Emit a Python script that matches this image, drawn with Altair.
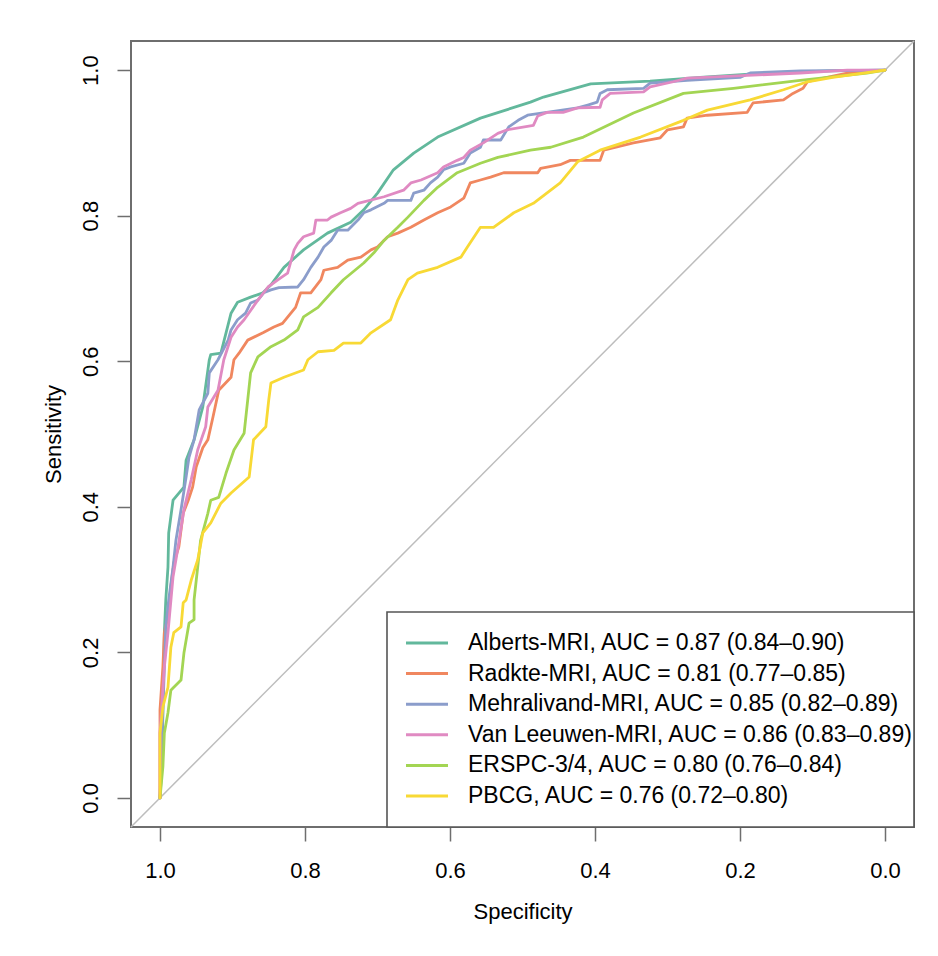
import altair as alt
import pandas as pd

# ---- data (specificity, sensitivity) ----
series_names = [
    "Alberts-MRI, AUC = 0.87 (0.84–0.90)",
    "Radkte-MRI, AUC = 0.81 (0.77–0.85)",
    "Mehralivand-MRI, AUC = 0.85 (0.82–0.89)",
    "Van Leeuwen-MRI, AUC = 0.86 (0.83–0.89)",
    "ERSPC-3/4, AUC = 0.80 (0.76–0.84)",
    "PBCG, AUC = 0.76 (0.72–0.80)",
]
series_colors = ["#62B89C", "#F0875F", "#8B9DCB", "#E08AC2", "#A3D553", "#F8D935"]

alberts_spec = [1.0, 0.997, 0.996, 0.994, 0.992, 0.989, 0.988, 0.982, 0.967, 0.964, 0.953, 0.941, 0.932, 0.930, 0.916, 0.902, 0.893, 0.875, 0.858, 0.847, 0.829, 0.802, 0.769, 0.737, 0.719, 0.700, 0.678, 0.650, 0.617, 0.558, 0.489, 0.471, 0.406, 0.324, 0.255, 0.163, 0.072, 0.0]
alberts_sens = [0.0, 0.052, 0.121, 0.227, 0.272, 0.317, 0.364, 0.409, 0.427, 0.464, 0.492, 0.537, 0.602, 0.609, 0.611, 0.666, 0.681, 0.688, 0.694, 0.705, 0.729, 0.753, 0.776, 0.791, 0.808, 0.831, 0.863, 0.886, 0.908, 0.934, 0.956, 0.963, 0.981, 0.985, 0.990, 0.996, 0.999, 1.0]

radtke_spec = [1.0, 1.0, 0.996, 0.994, 0.989, 0.985, 0.981, 0.974, 0.968, 0.961, 0.955, 0.950, 0.941, 0.934, 0.927, 0.919, 0.902, 0.898, 0.891, 0.879, 0.858, 0.843, 0.831, 0.813, 0.806, 0.792, 0.778, 0.774, 0.755, 0.741, 0.723, 0.709, 0.700, 0.686, 0.672, 0.654, 0.636, 0.617, 0.599, 0.581, 0.572, 0.558, 0.544, 0.526, 0.479, 0.475, 0.448, 0.434, 0.393, 0.388, 0.347, 0.310, 0.300, 0.278, 0.273, 0.245, 0.190, 0.182, 0.140, 0.127, 0.113, 0.107, 0.085, 0.052, 0.0]
radtke_sens = [0.0, 0.121, 0.180, 0.227, 0.249, 0.290, 0.323, 0.345, 0.391, 0.409, 0.427, 0.455, 0.481, 0.492, 0.523, 0.560, 0.578, 0.602, 0.611, 0.629, 0.639, 0.647, 0.652, 0.674, 0.694, 0.694, 0.712, 0.725, 0.729, 0.739, 0.743, 0.753, 0.757, 0.771, 0.776, 0.784, 0.794, 0.804, 0.812, 0.824, 0.845, 0.849, 0.853, 0.859, 0.859, 0.865, 0.870, 0.876, 0.876, 0.890, 0.900, 0.907, 0.918, 0.922, 0.934, 0.938, 0.942, 0.955, 0.959, 0.968, 0.975, 0.984, 0.989, 0.996, 1.0]

mehralivand_spec = [1.0, 0.996, 0.992, 0.988, 0.982, 0.978, 0.971, 0.964, 0.960, 0.953, 0.946, 0.934, 0.932, 0.920, 0.906, 0.902, 0.893, 0.882, 0.875, 0.865, 0.857, 0.847, 0.836, 0.810, 0.802, 0.792, 0.782, 0.774, 0.764, 0.755, 0.741, 0.727, 0.719, 0.709, 0.691, 0.686, 0.654, 0.650, 0.636, 0.627, 0.617, 0.609, 0.599, 0.581, 0.572, 0.558, 0.554, 0.530, 0.519, 0.506, 0.493, 0.424, 0.410, 0.397, 0.393, 0.383, 0.333, 0.324, 0.273, 0.200, 0.186, 0.117, 0.0]
mehralivand_sens = [0.0, 0.121, 0.235, 0.272, 0.317, 0.354, 0.396, 0.441, 0.468, 0.492, 0.533, 0.556, 0.584, 0.602, 0.629, 0.643, 0.657, 0.666, 0.680, 0.684, 0.694, 0.698, 0.701, 0.702, 0.712, 0.729, 0.743, 0.757, 0.766, 0.780, 0.780, 0.794, 0.804, 0.808, 0.817, 0.821, 0.821, 0.831, 0.835, 0.845, 0.853, 0.863, 0.867, 0.872, 0.886, 0.894, 0.904, 0.904, 0.922, 0.931, 0.938, 0.948, 0.952, 0.956, 0.968, 0.973, 0.975, 0.982, 0.986, 0.990, 0.996, 0.999, 1.0]

vanleeuwen_spec = [1.0, 1.0, 0.994, 0.989, 0.982, 0.975, 0.967, 0.957, 0.948, 0.937, 0.934, 0.920, 0.912, 0.902, 0.893, 0.884, 0.865, 0.851, 0.837, 0.824, 0.815, 0.810, 0.802, 0.788, 0.785, 0.769, 0.764, 0.751, 0.737, 0.727, 0.691, 0.664, 0.654, 0.640, 0.617, 0.609, 0.590, 0.581, 0.572, 0.554, 0.534, 0.521, 0.485, 0.479, 0.466, 0.444, 0.424, 0.393, 0.390, 0.379, 0.333, 0.324, 0.292, 0.273, 0.117, 0.052, 0.0]
vanleeuwen_sens = [0.0, 0.089, 0.180, 0.227, 0.304, 0.345, 0.396, 0.437, 0.478, 0.510, 0.537, 0.560, 0.602, 0.633, 0.647, 0.657, 0.684, 0.702, 0.712, 0.721, 0.753, 0.762, 0.771, 0.776, 0.794, 0.794, 0.798, 0.804, 0.810, 0.817, 0.826, 0.835, 0.845, 0.849, 0.859, 0.867, 0.876, 0.880, 0.890, 0.900, 0.913, 0.918, 0.924, 0.937, 0.942, 0.942, 0.948, 0.949, 0.959, 0.968, 0.970, 0.977, 0.984, 0.989, 0.996, 1.0, 1.0]

erspc_spec = [1.0, 0.996, 0.994, 0.989, 0.985, 0.981, 0.971, 0.967, 0.960, 0.953, 0.953, 0.948, 0.944, 0.934, 0.930, 0.919, 0.909, 0.898, 0.884, 0.879, 0.875, 0.865, 0.847, 0.829, 0.810, 0.802, 0.782, 0.764, 0.747, 0.719, 0.705, 0.691, 0.672, 0.658, 0.636, 0.617, 0.590, 0.558, 0.534, 0.489, 0.461, 0.416, 0.347, 0.278, 0.209, 0.117, 0.025, 0.0]
erspc_sens = [0.0, 0.043, 0.089, 0.117, 0.148, 0.152, 0.162, 0.199, 0.240, 0.245, 0.272, 0.317, 0.354, 0.391, 0.409, 0.413, 0.446, 0.478, 0.501, 0.547, 0.584, 0.606, 0.620, 0.629, 0.643, 0.661, 0.674, 0.694, 0.712, 0.735, 0.749, 0.766, 0.784, 0.798, 0.821, 0.839, 0.859, 0.872, 0.880, 0.890, 0.894, 0.908, 0.941, 0.968, 0.975, 0.986, 0.996, 1.0]

pbcg_spec = [1.0, 1.0, 0.996, 0.989, 0.985, 0.981, 0.971, 0.968, 0.964, 0.957, 0.948, 0.941, 0.930, 0.916, 0.902, 0.877, 0.871, 0.854, 0.850, 0.847, 0.829, 0.802, 0.796, 0.782, 0.760, 0.747, 0.723, 0.709, 0.682, 0.672, 0.658, 0.645, 0.617, 0.585, 0.576, 0.558, 0.540, 0.512, 0.485, 0.448, 0.424, 0.393, 0.337, 0.278, 0.245, 0.186, 0.140, 0.107, 0.072, 0.0]
pbcg_sens = [0.0, 0.089, 0.125, 0.152, 0.207, 0.227, 0.235, 0.268, 0.272, 0.299, 0.327, 0.364, 0.378, 0.405, 0.419, 0.441, 0.492, 0.510, 0.547, 0.570, 0.578, 0.588, 0.602, 0.613, 0.615, 0.625, 0.625, 0.639, 0.657, 0.684, 0.712, 0.721, 0.729, 0.743, 0.757, 0.784, 0.784, 0.804, 0.817, 0.845, 0.874, 0.890, 0.908, 0.931, 0.945, 0.959, 0.973, 0.984, 0.990, 1.0]

diag_spec = [1.04, -0.04]
diag_sens = [-0.04, 1.04]

tick_values = [0.0, 0.2, 0.4, 0.6, 0.8, 1.0]

# ---- build table ----
curves = [
    (alberts_spec, alberts_sens),
    (radtke_spec, radtke_sens),
    (mehralivand_spec, mehralivand_sens),
    (vanleeuwen_spec, vanleeuwen_sens),
    (erspc_spec, erspc_sens),
    (pbcg_spec, pbcg_sens),
]
rows = []
for k, (name, (sp, se)) in enumerate(zip(series_names, curves)):
    for i, (a, b) in enumerate(zip(sp, se)):
        rows.append({"model": name, "rank": k, "i": i, "spec": a, "sens": b})
df = pd.DataFrame(rows)
diag_df = pd.DataFrame({"spec": diag_spec, "sens": diag_sens})
frame_df = pd.DataFrame({"box": [0]})

FONT = "Liberation Sans"
AXIS_GRAY = "#6e6e6e"

x_scale = alt.Scale(domain=[-0.04, 1.04], reverse=True, nice=False, zero=False)
y_scale = alt.Scale(domain=[-0.04, 1.04], nice=False, zero=False)

x_axis = alt.Axis(
    values=tick_values, format=".1f", grid=False, domain=False,
    tickSize=14, tickWidth=1.5, tickColor=AXIS_GRAY,
    labelFontSize=22, labelFont=FONT, labelColor="black", labelPadding=19,
    title="Specificity", titleFontSize=22, titleFont=FONT, titleFontWeight="normal",
    titleColor="black", titleY=74, titleBaseline="top",
)
y_axis = alt.Axis(
    values=tick_values, format=".1f", grid=False, domain=False,
    tickSize=14, tickWidth=1.5, tickColor=AXIS_GRAY,
    labelFontSize=22, labelFont=FONT, labelColor="black", labelPadding=15,
    labelAngle=270, labelAlign="center", labelBaseline="bottom",
    title="Sensitivity", titleFontSize=22, titleFont=FONT, titleFontWeight="normal",
    titleColor="black", titleAngle=270, titleX=-78, titleBaseline="middle", titleAlign="center",
)

diag = alt.Chart(diag_df).mark_line(color="#bdbdbd", strokeWidth=1.5).encode(
    x=alt.X("spec:Q", scale=x_scale, axis=x_axis),
    y=alt.Y("sens:Q", scale=y_scale, axis=y_axis),
)

lines = alt.Chart(df).mark_line(strokeWidth=2.8, strokeJoin="round", strokeCap="round").encode(
    x=alt.X("spec:Q", scale=x_scale, axis=x_axis),
    y=alt.Y("sens:Q", scale=y_scale, axis=y_axis),
    color=alt.Color(
        "model:N",
        sort=series_names,
        scale=alt.Scale(domain=series_names, range=series_colors),
        legend=alt.Legend(
            title=None, orient="none", legendX=284.5, legendY=590.5,
            padding=0,
            symbolType="M-3,0H3", symbolSize=196, symbolStrokeWidth=3,
            symbolOffset=0, labelOffset=29.5, rowPadding=6.6,
            labelFontSize=23, labelFont=FONT, labelColor="black", labelLimit=600,
        ),
    ),
    order=alt.Order("i:Q"),
    detail="model:N",
)

# legend frame (box drawn from the legend's corner to the plot's bottom-right corner)
legend_frame = alt.Chart(frame_df).mark_rect(
    fill="white", stroke="#555555", strokeWidth=1.6
).encode(
    x=alt.value(256), x2=alt.value(783), y=alt.value(571), y2=alt.value(786),
)

chart = alt.layer(diag, lines, legend_frame).properties(
    width=783, height=786,
    autosize=alt.AutoSizeParams(type="none"),
    padding={"left": 123, "top": 33, "right": 10, "bottom": 120},
    background="white",
).configure_view(stroke=AXIS_GRAY, strokeWidth=2)

chart.save("out.html", embed_options={"renderer": "svg", "actions": False})
